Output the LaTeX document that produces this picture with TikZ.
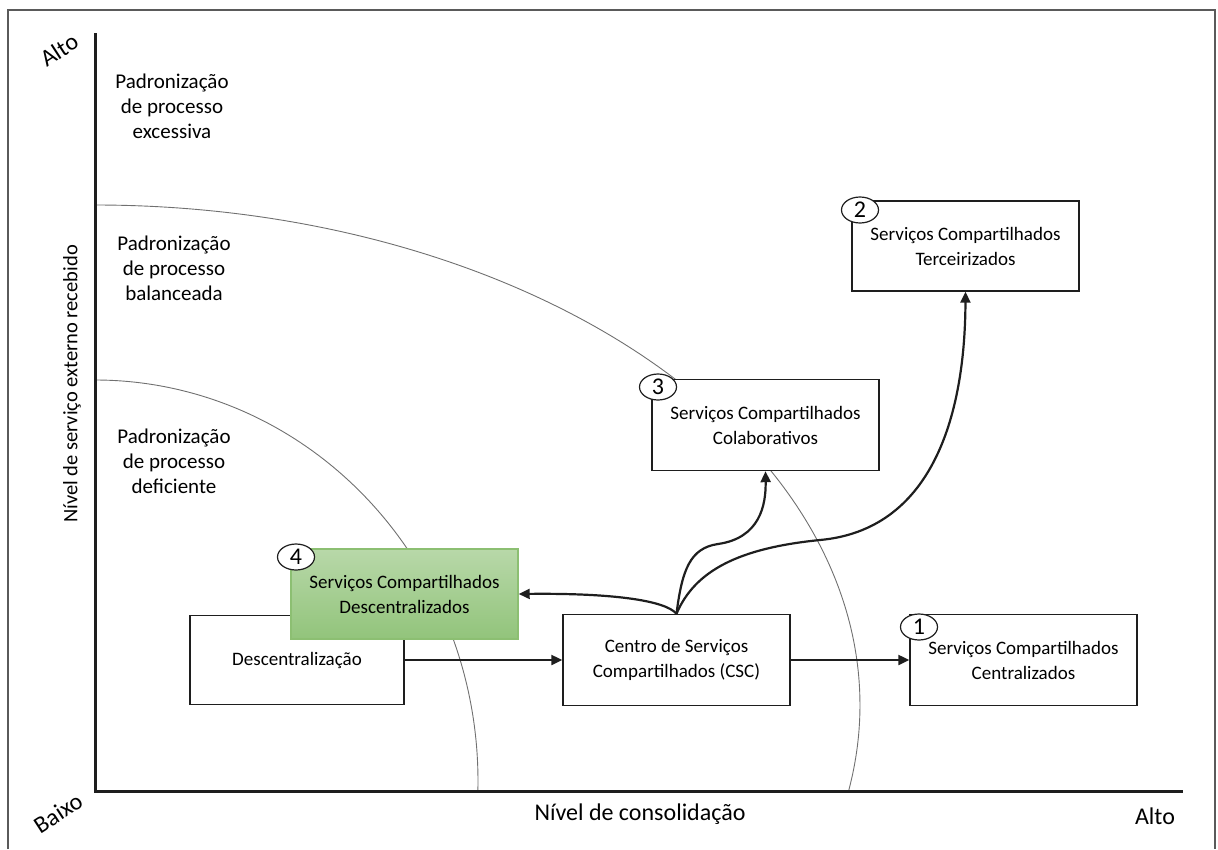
\documentclass[tikz,border=0pt]{standalone}
\usepackage{fontspec}
\setmainfont{Carlito}
\usetikzlibrary{arrows.meta,shapes.geometric}
\definecolor{PanelFrame}{HTML}{5A5A5A}
\definecolor{PanelLine}{HTML}{1E1E1E}
\definecolor{PanelCurve}{HTML}{707070}
\definecolor{GreenTop}{HTML}{B8D8A9}
\definecolor{GreenBottom}{HTML}{92C47B}
\definecolor{GreenEdge}{HTML}{8CBF72}

\tikzset{
  txt/.style={align=center, font=\fontsize{19}{25}\selectfont},
  zonetxt/.style={align=center, font=\fontsize{21}{25}\selectfont},
  axistxt/.style={font=\fontsize{24}{24}\selectfont},
  boxnode/.style={txt, draw=PanelLine, line width=1.4pt, fill=white,
    minimum width=227pt, minimum height=91pt, inner sep=2pt},
  greenbox/.style={boxnode, draw=GreenEdge, top color=GreenTop, bottom color=GreenBottom},
  numtag/.style={ellipse, draw=PanelLine, line width=1.2pt, fill=white, inner sep=0pt,
    minimum width=37pt, minimum height=26pt, font=\fontsize{24}{24}\selectfont},
  flow/.style={PanelLine, line width=2.2pt, -{Triangle[length=11pt,width=10pt]}},
  zone/.style={PanelCurve, line width=0.9pt}
}

\begin{document}
\begin{tikzpicture}[x=1pt,y=-1pt]
  \useasboundingbox (0,0) rectangle (1218,849);
  % moldura
  \draw[PanelFrame, line width=1.5pt] (8,849) -- (8,10) -- (1215,10) -- (1215,849);

  % zonas de padronizacao
  \draw[zone] (95,205) arc[start angle=90, end angle=-9.8, x radius=765pt, y radius=500pt];
  \draw[zone] (95,380) arc[start angle=90, end angle=-1.3, x radius=383pt, y radius=401pt];

  % eixos
  \draw[PanelLine, line width=3pt] (95,33) -- (95,791) -- (1183,791);
  \node[axistxt, rotate=33] (altoy) at (59,50) {Alto};
  \node[axistxt, rotate=33] (baixo) at (58,813) {Baixo};
  \node[axistxt] (altox) at (1155,816) {Alto};
  \node[axistxt] (eixox) at (640,814) {Nível de consolidação};
  \node[axistxt, font=\fontsize{20.5}{20.5}\selectfont, rotate=90] (eixoy) at (72,384)
    {Nível de serviço externo recebido};

  \node[zonetxt] (excessiva) at (172,106) {Padronização\\de processo\\excessiva};
  \node[zonetxt] (balanceada) at (174,268) {Padronização\\de processo\\balanceada};
  \node[zonetxt] (deficiente) at (174,461) {Padronização\\de processo\\deficiente};

  % caixas
  \node[boxnode, minimum width=214pt, minimum height=89pt] (desc) at (297,660) {Descentralização};
  \node[greenbox, minimum height=90pt] (descsc) at (404.5,594) {Serviços Compartilhados\\Descentralizados};
  \node[boxnode] (csc) at (676.5,660) {Centro de Serviços\\Compartilhados (CSC)};
  \node[boxnode] (centr) at (1023.5,660) {Serviços Compartilhados\\Centralizados};
  \node[boxnode] (colab) at (765.5,425) {Serviços Compartilhados\\Colaborativos};
  \node[boxnode, minimum height=90pt] (terc) at (965.5,246) {Serviços Compartilhados\\Terceirizados};

  \node[numtag] (n1) at (919,627) {1};
  \node[numtag] (n2) at (860,210) {2};
  \node[numtag] (n3) at (658,387) {3};
  \node[numtag] (n4) at (296,557) {4};

  % setas
  \draw[flow] (desc) -- (csc);
  \draw[flow] (csc) -- (centr);
  \draw[flow] (csc.north) .. controls (665,600) and (610,593) .. (descsc.east);
  \draw[flow] (csc.north) .. controls (682,570) and (690,548) .. (718,544)
    .. controls (760,538) and (766,505) .. (colab.south);
  \draw[flow] (csc.north) .. controls (695,570) and (740,548) .. (820,540)
    .. controls (930,530) and (965,420) .. (terc.south);
\end{tikzpicture}
\end{document}
